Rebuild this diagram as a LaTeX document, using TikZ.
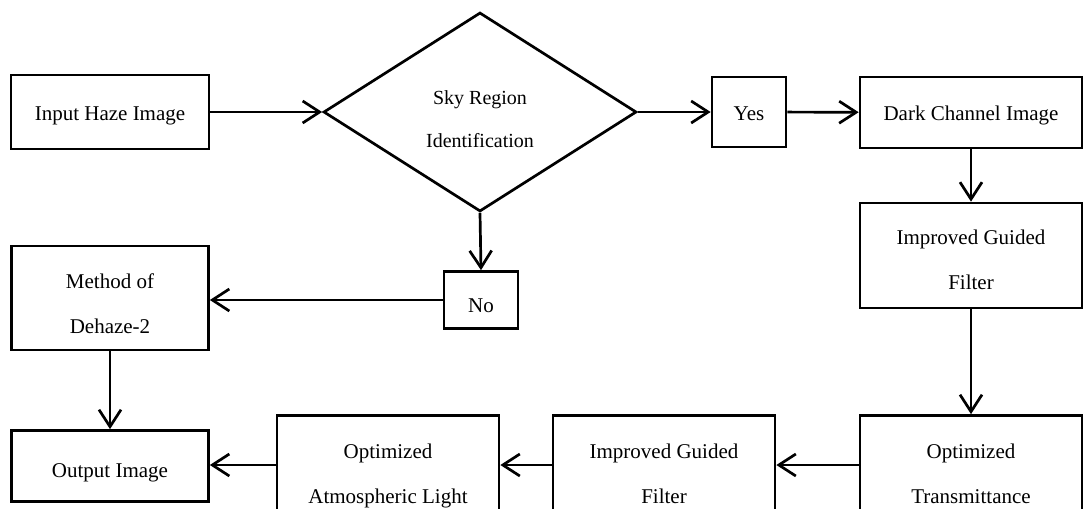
\documentclass[tikz,border=0pt]{standalone}
\usepackage{fontspec}
\setmainfont{Liberation Serif}
\usetikzlibrary{shapes.geometric,arrows.meta}

% centred block of lines, optionally set a little below the middle of its box
\newcommand\cellbox[2][2pt]{\raisebox{-#1}[\height][\depth]{\begin{tabular}{@{}c@{}}#2\end{tabular}}}

\begin{document}
\begin{tikzpicture}[x=1pt,y=-1pt,
  box/.style={draw, line width=2.7pt, rectangle, inner sep=0pt,
    font=\fontsize{21}{45}\selectfont},
  decision/.style={draw, line width=2.7pt, diamond, aspect=1.573,
    inner sep=0pt, minimum width=313pt, minimum height=199pt,
    font=\fontsize{20}{43}\selectfont},
  flow/.style={line width=2.7pt, -{Straight Barb[length=17pt,width=22pt]}}
]
\useasboundingbox (0,0) rectangle (1085,509);
\clip (0,0) rectangle (1085,509);

% top row
\node[box, minimum width=198pt, minimum height=74pt] (in) at (110,112) {\cellbox[-1pt]{Input Haze Image}};
\node[decision] (dec) at (480,112) {\cellbox[5pt]{Sky Region\\Identification}};
\node[box, minimum width=74pt, minimum height=70pt] (yes) at (749,112) {\cellbox[-1pt]{Yes}};
\node[box, minimum width=222pt, minimum height=71pt] (dark) at (971,112.5) {\cellbox[-1pt]{Dark Channel Image}};

% right column and middle row
\node[box, minimum width=222pt, minimum height=105pt] (igfa) at (971,255.5) {\cellbox{Improved Guided\\Filter}};
\node[box, minimum width=74pt, minimum height=57pt] (no) at (481,300) {\cellbox[3pt]{No}};
\node[box, minimum width=197pt, minimum height=104pt] (meth) at (110,298) {\cellbox[4pt]{Method of\\Dehaze-2}};

% bottom row
\node[box, minimum width=197pt, minimum height=71pt] (out) at (110,466) {\cellbox{Output Image}};
\node[box, minimum width=222pt, minimum height=105pt] (oal) at (388,468) {\cellbox[4pt]{Optimized\\Atmospheric Light}};
\node[box, minimum width=222pt, minimum height=105pt] (igfb) at (664,468) {\cellbox[4pt]{Improved Guided\\Filter}};
\node[box, minimum width=222pt, minimum height=105pt] (otr) at (971,468) {\cellbox[4pt]{Optimized\\Transmittance}};

% connectors
\draw[flow] (in) -- (dec);
\draw[flow] (dec) -- (yes);
\draw[flow] (yes) -- (dark);
\draw[flow] (dark) -- (igfa);
\draw[flow] (igfa) -- (otr);
\draw[flow] (dec.south) -- (no.north);
\draw[flow] (no.west) -- (meth.east |- no.west);
\draw[flow] (meth) -- (out);
\draw[flow] (otr.west |- 0,465) -- (igfb.east |- 0,465);
\draw[flow] (igfb.west |- 0,465) -- (oal.east |- 0,465);
\draw[flow] (oal.west |- 0,465) -- (out.east |- 0,465);
\end{tikzpicture}
\end{document}
